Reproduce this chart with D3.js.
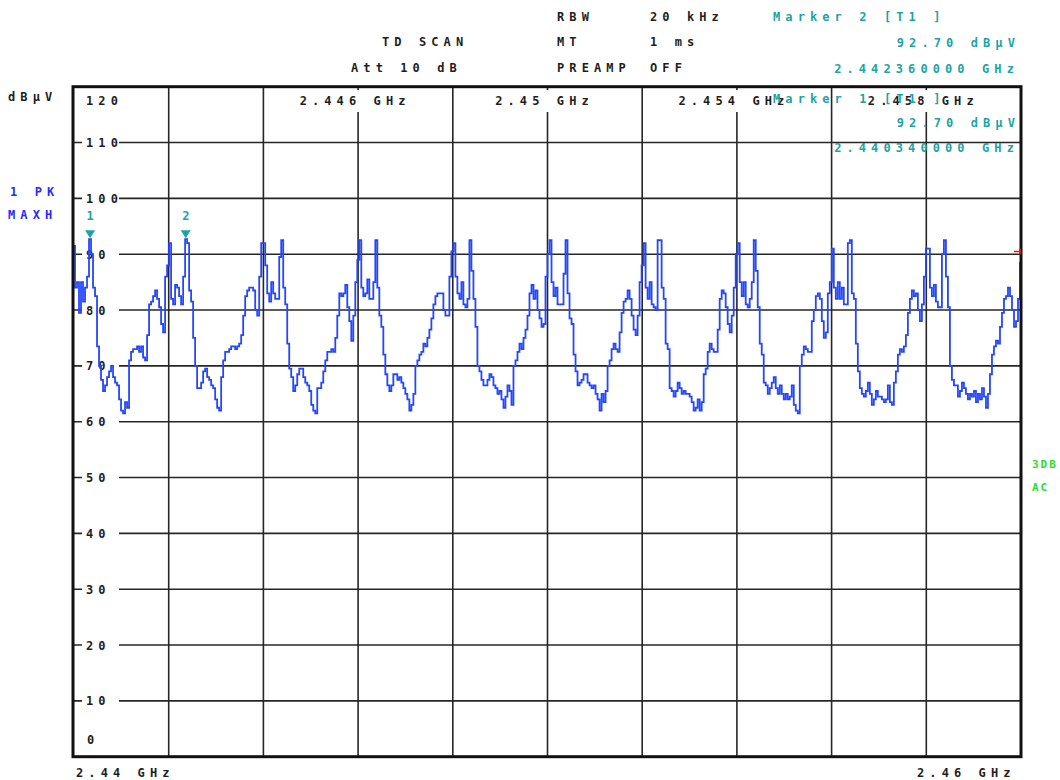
<!DOCTYPE html>
<html>
<head>
<meta charset="utf-8">
<script src="https://cdn.jsdelivr.net/npm/d3@7"></script>
<style>
  html, body { margin: 0; padding: 0; background: #fff; }
  svg { display: block; }
  text {
    font-family: "DejaVu Sans Mono", "Liberation Mono", monospace;
    font-weight: bold;
    font-size: 12px;
    letter-spacing: 5.1px;
  }
</style>
</head>
<body>
<svg id="chart" width="1060" height="780"></svg>
<script>
// ---- Sweep settings ----
const startFreqGHz = 2.44;
const stopFreqGHz = 2.46;
const freqGridGHz = [2.440, 2.442, 2.444, 2.446, 2.448, 2.450, 2.452, 2.454, 2.456, 2.458, 2.460];
const freqLabelsGHz = [2.446, 2.45, 2.454, 2.458];
const levelTicks = [0, 10, 20, 30, 40, 50, 60, 70, 80, 90, 100, 110, 120];
const levelUnit = "dB\u00b5V";

// Instrument settings shown in the header
const settingNames = ["RBW", "MT", "PREAMP"];
const settingValues = ["20 kHz", "1 ms", "OFF"];
const scanInfo = ["TD SCAN", "Att 10 dB"];
const traceInfo = ["1 PK", "MAXH"];
const sideInfo = ["3DB", "AC"];

// Markers (peak search on trace 1)
const markerIds = [1, 2];
const markerFreqsGHz = [2.44034, 2.44236];
const markerLevels = [92.70, 92.70];
const displayLineLevel = 90.5;

// Trace 1, max hold, dBµV, evenly spaced sweep points from start to stop
const levels = [
  91.5,84,85,79.5,85,81.5,84,86,92.7,90,
  84,82.5,73.5,70,67.5,65.5,66.5,68,69,70,
  68,67,66.5,64,62,61.5,63.5,62.5,71,72.5,
  73,73,73.5,72.5,73.5,71.5,71,75.5,81,81.5,
  82.5,83.5,82,80.5,77.5,76,86,88,92,82,
  81,84.5,84,82.5,81,86,92.7,92,83.5,81.5,
  75,70,66,66,67,69,69.5,68,67.5,66.5,
  66,64,62.5,62,68,71,72.5,72.5,73,73.5,
  73.5,73,73.5,74,75.5,79,82.5,83.5,84,84,
  83.5,80,79,86,92,92,88,83,81.5,85,
  83,82,82,89.5,92.5,84,81,74,69.5,68,
  65.5,66.5,68.5,69.5,69.5,68,67,66.5,65.5,63,
  62,61.5,66,66,67,69,71,72.5,72.5,73,
  72.5,75,79,83,82.5,83,84.5,80.5,78,74.5,
  79,85,89,92.5,84,82.5,83,85.5,82,82,
  85,92.5,84,79,77,72,68.5,66.5,65.5,66.5,
  68.5,68.5,67.5,68,67,66,65,64,62,63,
  65,70,71,72,72.5,74,73.5,75,76.5,78.5,
  81,82.5,83,83,83,80,79,79,86,90.5,
  92,86,83,82,85,81,80.5,82,92.5,87,
  82,77,70,69,67.5,66.5,66.5,67.5,68.5,68,
  66.5,66,65,65.5,64,62.5,64.5,66.5,65.5,63,
  70,71,72.5,74,73,75,76.5,79,83,84.5,
  82,83.5,80,78.5,77,77.5,86,90,92.5,85,
  82.5,84,81,81,81,86.5,92.5,83,78.5,77.5,
  72,69,66.5,67,67.5,68.5,68.5,67,66.5,66,
  66.5,65,64,62,65,63.5,65.5,70,71,73,
  74,73,72.5,76,79.5,81.5,82,83.5,82,79,
  76.5,75.5,79,85,88,92,84,82,85,81,
  80.5,80,92.5,92.5,84,82,74,73,66,65.5,
  64.5,65.5,67,66,65,65.5,65,65,64.5,63.5,
  62,62.5,64,62,63.5,68.5,69.5,72.5,74,73,
  72.5,72.5,76.5,82,83.5,83,80.5,77.5,76,79,
  84,90,92,85,82.5,85,81,80.5,82,85,
  92.5,87,80.5,74,72,67,66.5,65,66,67,
  68,66,65,66.5,65,64,65,64,64.5,66.5,
  63,62,61.5,70,72,73.5,73,72.5,72.5,78,
  80,82.5,83,82,78,75,76,83,85,91,
  84,82,85,82,84,81,81,92,92.5,83,
  82,74,69,66,65,64.5,65.5,67,65,63,
  64,65.5,64.5,64.5,64,63.5,64,66.5,63.5,63,
  67,69,72,73,72.5,73.5,75.5,79.5,82,83.5,
  82.5,83,80,78,81,86,91,91,84,82.5,
  84.5,81.5,80.5,80.5,90,92.5,86,80.5,70,67.5,
  66.5,66.5,64.5,65.5,67,66,65,64,65,64.5,
  65.5,63.5,65,64,66,64.5,62.5,65,68.5,72,
  73.5,74.5,74,77,79.5,82,82.5,84,82.5,80,
  77,78,82,88.5
];

// ---- Layout ----
const plot = { left: 74, right: 1021, top: 86.7, bottom: 756.7 };
const COLORS = {
  ink: "#1e1e1e",
  grid: "#262626",
  trace: "#2446ff",
  traceText: "#2a2aff",
  marker: "#1ea3a3",
  side: "#2edc2e",
  red: "#e01818"
};

const svg = d3.select("#chart");
const x = d3.scaleLinear().domain([startFreqGHz, stopFreqGHz]).range([plot.left, plot.right]);
const y = d3.scaleLinear().domain([0, 120]).range([plot.bottom, plot.top]);

const fmtFreq = f => String(+f.toFixed(3)) + " GHz";

// ---- Grid ----
const grid = svg.append("g");
grid.selectAll("line.v")
  .data(freqGridGHz.slice(1, -1))
  .join("line")
  .attr("x1", d => x(d)).attr("x2", d => x(d))
  .attr("y1", plot.top).attr("y2", plot.bottom)
  .attr("stroke", COLORS.grid).attr("stroke-width", 1.6);

grid.selectAll("line.h")
  .data(levelTicks.slice(1, -1))
  .join("line")
  .attr("x1", plot.left).attr("x2", plot.right)
  .attr("y1", d => y(d)).attr("y2", d => y(d))
  .attr("stroke", COLORS.grid).attr("stroke-width", 1.6);

// ---- Level labels inside the left edge of the grid ----
const yLab = svg.append("g");
levelTicks.forEach(v => {
  let cy = y(v), lx = 86;
  if (v === 120) cy = y(v) + 14;
  else if (v === 0) { cy = y(v) - 17; lx = 87; }
  else {
    yLab.append("rect")
      .attr("x", 82).attr("y", cy - 6)
      .attr("width", 37).attr("height", 12)
      .attr("fill", "#fff");
  }
  yLab.append("text")
    .attr("x", lx).attr("y", cy + 4.5)
    .attr("fill", COLORS.ink)
    .text(v);
});

// ---- Frequency labels along the top of the grid ----
const fLab = svg.append("g");
freqLabelsGHz.forEach(f => {
  const t = fLab.append("text")
    .attr("x", x(f) - 3).attr("y", 104.5)
    .attr("text-anchor", "middle")
    .attr("fill", COLORS.ink)
    .text(fmtFreq(f));
  const bb = t.node().getBBox();
  fLab.insert("rect", "text")
    .attr("x", bb.x - 2).attr("y", 90)
    .attr("width", bb.width + 4).attr("height", 22)
    .attr("fill", "#fff");
});

// ---- Trace ----
const n = levels.length;
const freqOf = i => startFreqGHz + i * (stopFreqGHz - startFreqGHz) / (n - 1);
const line = d3.line()
  .x((d, i) => x(freqOf(i)))
  .y(d => y(d))
  .curve(d3.curveStep);

svg.append("path")
  .datum(levels)
  .attr("d", line)
  .attr("fill", "none")
  .attr("stroke", COLORS.trace)
  .attr("stroke-width", 1.8)
  .attr("stroke-linejoin", "miter");

// ---- Frame ----
svg.append("rect")
  .attr("x", plot.left - 1).attr("y", plot.top)
  .attr("width", plot.right - plot.left + 1).attr("height", plot.bottom - plot.top)
  .attr("fill", "none")
  .attr("stroke", "#111").attr("stroke-width", 3);

// ---- Display line indicator on the right edge ----
const dl = y(displayLineLevel);
svg.append("path")
  .attr("d", `M${plot.right - 7},${dl} H${plot.right} M${plot.right - 1},${dl - 3} V${dl + 3}`)
  .attr("stroke", COLORS.red).attr("stroke-width", 1.5).attr("fill", "none");

// ---- Markers ----
const mk = svg.append("g");
markerIds.forEach((id, k) => {
  const mx = x(markerFreqsGHz[k]);
  const ty = y(markerLevels[k]) - 1;
  mk.append("path")
    .attr("d", `M${mx - 5},${ty - 8} L${mx + 5},${ty - 8} L${mx},${ty} Z`)
    .attr("fill", COLORS.marker);
  mk.append("text")
    .attr("x", mx).attr("y", ty - 18)
    .attr("text-anchor", "middle")
    .style("letter-spacing", "0px")
    .attr("fill", COLORS.marker)
    .text(id);
});

// ---- Marker readouts ----
function markerBlock(k, y0, dy) {
  const g = svg.append("g").attr("fill", COLORS.marker);
  g.append("text").attr("x", 773).attr("y", y0).text(`Marker ${markerIds[k]} [T1 ]`);
  g.append("text").attr("x", 1020).attr("y", y0 + dy).attr("text-anchor", "end")
    .text(markerLevels[k].toFixed(2) + " " + levelUnit);
  g.append("text").attr("x", 1019).attr("y", y0 + 2 * dy + 0.5).attr("text-anchor", "end")
    .text(markerFreqsGHz[k].toFixed(9) + " GHz");
}

// ---- Header ----
const hdr = svg.append("g").attr("fill", COLORS.ink);
const rowY = [20.5, 46, 71.5];
settingNames.forEach((s, i) => {
  hdr.append("text").attr("x", 557).attr("y", rowY[i]).text(s);
  hdr.append("text").attr("x", 650).attr("y", rowY[i]).text(settingValues[i]);
});
hdr.append("text").attr("x", 382).attr("y", rowY[1]).text(scanInfo[0]);
hdr.append("text").attr("x", 351).attr("y", rowY[2]).text(scanInfo[1]);

markerBlock(1, 21, 25.5);
markerBlock(0, 103, 24);

// ---- Side annotations ----
svg.append("text").attr("x", 8).attr("y", 101).attr("fill", COLORS.ink).text(levelUnit);
svg.append("text").attr("x", 10).attr("y", 195.5).attr("fill", COLORS.traceText).text(traceInfo[0]);
svg.append("text").attr("x", 8).attr("y", 218.5).attr("fill", COLORS.traceText).text(traceInfo[1]);
svg.append("text").attr("x", 1032).attr("y", 468).attr("fill", COLORS.side)
  .style("letter-spacing", "2px").style("font-size", "11px").text(sideInfo[0]);
svg.append("text").attr("x", 1032).attr("y", 491).attr("fill", COLORS.side)
  .style("letter-spacing", "2px").style("font-size", "11px").text(sideInfo[1]);

// ---- Start / stop frequency ----
svg.append("text").attr("x", 76).attr("y", 777).attr("fill", COLORS.ink).text(fmtFreq(startFreqGHz));
svg.append("text").attr("x", 917).attr("y", 777).attr("fill", COLORS.ink).text(fmtFreq(stopFreqGHz));
</script>
</body>
</html>
